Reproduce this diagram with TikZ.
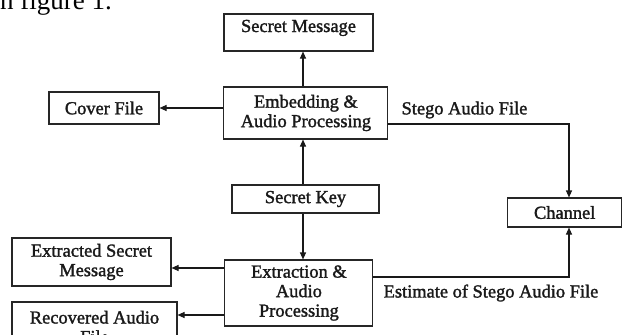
\documentclass[tikz,border=0pt]{standalone}
\usepackage{fontspec}
\setmainfont{Liberation Serif}
\newfontfamily\boxfont[FakeBold=1.6]{Liberation Serif}
\usetikzlibrary{arrows.meta}
\begin{document}
\begin{tikzpicture}[x=1pt,y=-1pt,
  blk/.style={draw=black!85,line width=1.1pt,inner sep=0pt,align=center,
    font=\boxfont\fontsize{18.4}{19.5}\selectfont,text=black!90},
  lbl/.style={inner sep=0pt,font=\boxfont\fontsize{18.4}{19.5}\selectfont,text=black!90},
  arr/.style={line width=1.1pt,draw=black!90,-{Triangle[length=7pt,width=6pt]}},
  ln/.style={line width=1.1pt,draw=black!90}]
\useasboundingbox (0,0) rectangle (622,335);
% stray caption text, cut at the top
\node[anchor=base east,inner sep=0pt,font=\fontsize{27}{30}\selectfont] (cap) at (112,9) {in figure 1.};
% boxes
\node[blk,minimum width=149pt,minimum height=37pt] (sm) at (298.5,32.5) {\raisebox{5pt}[13pt][4pt]{Secret Message}};
\node[blk,minimum width=164pt,minimum height=52pt] (emb) at (305.9,113) {Embedding \&\\Audio Processing};
\node[blk,minimum width=110pt,minimum height=32pt] (cov) at (104,108) {Cover File};
\node[blk,minimum width=147pt,minimum height=28pt] (key) at (305.5,199) {Secret Key};
\node[blk,minimum width=114pt,minimum height=29pt] (ch) at (564.7,212.5) {Channel};
\node[blk,minimum width=148pt,minimum height=66pt] (ext) at (298.9,293) {Extraction \&\\Audio\\Processing};
\node[blk,minimum width=159pt,minimum height=48pt] (esm) at (91.5,262) {Extracted Secret\\Message};
\node[blk,minimum width=165pt,minimum height=50pt] (raf) at (94.5,327) {Recovered Audio\\File};
% labels
\node[lbl] (stego) at (464.5,110) {Stego Audio File};
\node[lbl] (est) at (491,293) {Estimate of Stego Audio File};
% helper coordinates
\coordinate (ax) at (303,0);
\coordinate (cx) at (569,0);
\coordinate (s1) at (569,124);
\coordinate (s2) at (569,277);
\coordinate (e1) at (0,268);
\coordinate (e2) at (0,315);
% connectors
\draw[arr] (ax |- emb.north) -- (ax |- sm.south);
\draw[arr] (ax |- key.north) -- (ax |- emb.south);
\draw[arr] (ax |- key.south) -- (ax |- ext.north);
\draw[arr] (emb.west |- cov.east) -- (cov.east);
\draw[arr] (emb.east |- s1) -- (s1) -- (cx |- ch.north);
\draw[arr] (ext.east |- s2) -- (s2) -- (cx |- ch.south);
\draw[arr] (ext.west |- e1) -- (esm.east |- e1);
\draw[arr] (ext.west |- e2) -- (raf.east |- e2);
\end{tikzpicture}
\end{document}
